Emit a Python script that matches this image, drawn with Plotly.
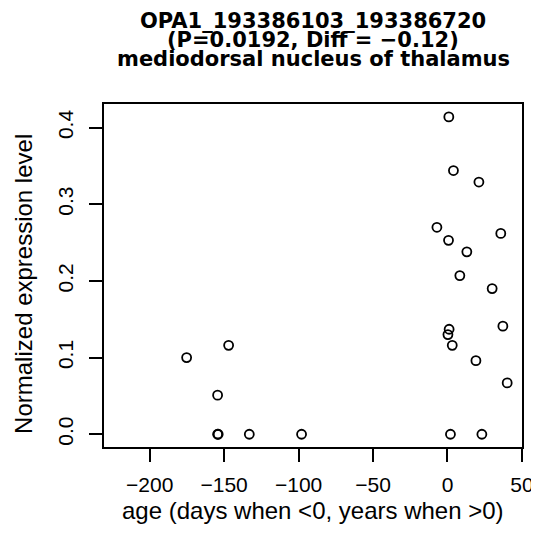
import plotly.graph_objects as go

# Data
age = [0.9, 4.0, 21.1, -7.1, 35.8, 0.7, 13.0, 8.3, 30.0, 37.2, 1.1, 0.3, 3.2,
       19.1, 40.1, -98.0, 2.0, 23.1, -147.0, -175.2, -154.4, -154.4, -154.0, -133.1]
expression = [0.414, 0.344, 0.329, 0.270, 0.262, 0.253, 0.238, 0.207, 0.190,
              0.141, 0.137, 0.130, 0.116, 0.096, 0.067, 0.0, 0.0, 0.0, 0.116,
              0.100, 0.051, 0.0, 0.0, 0.0]

x_ticks = [-200, -150, -100, -50, 0, 50]
x_tick_labels = ['\u2212200', '\u2212150', '\u2212100', '\u221250', '0', '50']
y_ticks = [0.0, 0.1, 0.2, 0.3, 0.4]
y_tick_labels = ['0.0', '0.1', '0.2', '0.3', '0.4']

title_lines = ['OPA1_193386103_193386720',
               '(P=0.0192, Diff = \u22120.12)',
               'mediodorsal nucleus of thalamus']

# de pagina heeft 8px body-marge, dus alles 8px verschoven;
# hoogte iets kleiner zodat er geen verticale scrollbalk komt
OFF = 8
W, H = 539 - OFF, 530
# plotkader in schermpixels: links 103.5, rechts 522, boven 103.7, onder 446.7
L = 103.5 - OFF
T = 103.7 - OFF
R = W - (522 - OFF)
B = H - (446.7 - OFF)
plot_h = H - T - B
plot_w = W - L - R

def py(pix):
    # schermpixel (rij) -> paper y
    return (H - B - (pix - OFF)) / plot_h

def px(pix):
    return ((pix - OFF) - L) / plot_w

fig = go.Figure()
fig.add_trace(go.Scatter(
    x=age,
    y=expression,
    mode='markers',
    marker=dict(symbol='circle-open', size=9, color='black', line=dict(width=1.8)),
    showlegend=False
))

font = 'Liberation Sans, Arial, sans-serif'

fig.update_layout(
    width=W, height=H,
    margin=dict(l=L, r=R, t=T, b=B, autoexpand=False),
    plot_bgcolor='white',
    paper_bgcolor='white',
    font=dict(family=font, color='black'),
    xaxis=dict(
        range=[-230.7, 50.05],
        tickvals=x_ticks, ticktext=x_tick_labels,
        ticks='outside', ticklen=13, tickwidth=1.5, tickcolor='black',
        showline=True, linecolor='black', linewidth=2, mirror=True,
        showgrid=False, zeroline=False, automargin=False,
        tickfont=dict(size=21), ticklabelstandoff=5,
        ticklabeloverflow='allow'
    ),
    yaxis=dict(
        range=[-0.0166, 0.4308],
        tickvals=y_ticks, ticktext=y_tick_labels, tickangle=-90,
        ticks='outside', ticklen=13, tickwidth=1.5, tickcolor='black',
        showline=True, linecolor='black', linewidth=2, mirror=True,
        showgrid=False, zeroline=False, automargin=False,
        tickfont=dict(size=21), ticklabelstandoff=8
    )
)

# Titel in drie losse regels (strakkere regelafstand dan plotly's <br>)
for line, ypix in zip(title_lines, [21, 40, 59]):
    fig.add_annotation(
        text=f'<b>{line}</b>', xref='paper', yref='paper',
        x=px(313), y=py(ypix), xanchor='center', yanchor='middle',
        showarrow=False, font=dict(size=21, family='DejaVu Sans')
    )

# Astitels
fig.add_annotation(
    text='age (days when <0, years when >0)', xref='paper', yref='paper',
    x=px(313), y=py(510), xanchor='center', yanchor='middle',
    showarrow=False, font=dict(size=24, family=font)
)
fig.add_annotation(
    text='Normalized expression level', xref='paper', yref='paper',
    x=px(23), y=py(284), xanchor='center', yanchor='middle', textangle=-90,
    showarrow=False, font=dict(size=24, family=font)
)

fig.write_html('out.html')
